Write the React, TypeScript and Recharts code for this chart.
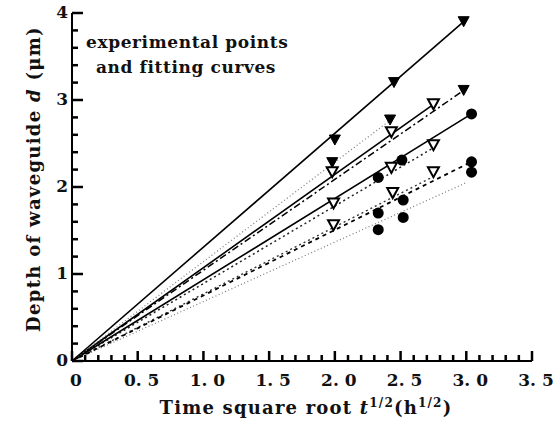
import React from "react";
import { ComposedChart, Line, Scatter, XAxis, YAxis } from "recharts";

// experimental points (x = t^1/2, y = depth)
const PTS_A = [ { x: 2.0, y: 2.54 }, { x: 2.45, y: 3.2 }, { x: 2.98, y: 3.9 } ];
const PTS_B = [ { x: 1.98, y: 2.28 }, { x: 2.42, y: 2.77 }, { x: 2.98, y: 3.11 } ];
const PTS_C = [ { x: 1.98, y: 2.17 }, { x: 2.43, y: 2.63 }, { x: 2.75, y: 2.95 } ];
const PTS_D = [ { x: 2.33, y: 2.11 }, { x: 2.51, y: 2.31 }, { x: 3.04, y: 2.84 } ];
const PTS_E = [ { x: 1.99, y: 1.81 }, { x: 2.43, y: 2.22 }, { x: 2.75, y: 2.48 } ];
const PTS_F = [ { x: 2.33, y: 1.7 }, { x: 2.52, y: 1.85 }, { x: 3.04, y: 2.29 } ];
const PTS_G = [ { x: 1.99, y: 1.56 }, { x: 2.44, y: 1.93 }, { x: 2.75, y: 2.17 } ];
const PTS_H = [ { x: 2.33, y: 1.51 }, { x: 2.52, y: 1.65 }, { x: 3.04, y: 2.17 } ];

// fitting lines (start, end)
const FIT_A = [ { x: 0, y: 0 }, { x: 2.98, y: 3.9 } ];
const FIT_B = [ { x: 0, y: 0 }, { x: 2.45, y: 2.8 } ];
const FIT_B2 = [ { x: 0, y: 0 }, { x: 2.98, y: 3.11 } ];
const FIT_C = [ { x: 0, y: 0 }, { x: 2.75, y: 2.95 } ];
const FIT_D = [ { x: 0, y: 0 }, { x: 3.04, y: 2.84 } ];
const FIT_E = [ { x: 0, y: 0 }, { x: 2.75, y: 2.45 } ];
const FIT_F = [ { x: 0, y: 0 }, { x: 3.04, y: 2.29 } ];
const FIT_G = [ { x: 0, y: 0 }, { x: 2.75, y: 2.12 } ];
const FIT_H = [ { x: 0, y: 0 }, { x: 3.0, y: 2.05 } ];

// ticks: labelled (major) and unlabelled (minor)
const X_MAJOR = [0, 0.5, 1, 1.5, 2, 2.5, 3, 3.5];
const X_MINOR = [
  0.1, 0.2, 0.3, 0.4, 0.6, 0.7, 0.8, 0.9, 1.1, 1.2, 1.3, 1.4, 1.6, 1.7, 1.8,
  1.9, 2.1, 2.2, 2.3, 2.4, 2.6, 2.7, 2.8, 2.9, 3.1, 3.2, 3.3, 3.4,
];
const Y_MAJOR = [0, 1, 2, 3, 4];
const Y_MINOR = [
  0.2, 0.4, 0.6, 0.8, 1.2, 1.4, 1.6, 1.8, 2.2, 2.4, 2.6, 2.8, 3.2, 3.4, 3.6, 3.8,
];

const X_MAJOR_MARKS = X_MAJOR.map((v) => ({ x: v, y: 0 }));
const X_MINOR_MARKS = X_MINOR.map((v) => ({ x: v, y: 0 }));
const Y_MAJOR_MARKS = Y_MAJOR.map((v) => ({ x: 0, y: v }));
const Y_MINOR_MARKS = Y_MINOR.map((v) => ({ x: 0, y: v }));

const FONT = "'DejaVu Serif', 'Liberation Serif', serif";
const TICK_MARGIN = 10;

function XTick(props: any) {
  const { x, y, payload } = props;
  const v = payload.value;
  const label = v === 0 ? "0" : v.toFixed(1).replace(".", ". ");
  return (
    <text x={x + 4} y={y + 15} textAnchor="middle" fontFamily={FONT} fontWeight="bold" fontSize={17} fill="#111">
      {label}
    </text>
  );
}

function YTick(props: any) {
  const { x, y, payload } = props;
  return (
    <text x={x + TICK_MARGIN - 4} y={y + 5} textAnchor="end" fontFamily={FONT} fontWeight="bold" fontSize={17} fill="#111">
      {payload.value}
    </text>
  );
}

function XTitle(props: any) {
  const { viewBox } = props;
  const cx = viewBox.x + viewBox.width / 2 + 4;
  return (
    <text x={cx} y={viewBox.y + 53} textAnchor="middle" fontFamily={FONT} fontWeight="bold" fontSize={18} letterSpacing={1.2} fill="#111">
      Time square root <tspan fontStyle="italic">t</tspan>
      <tspan dy={-7} fontSize={12}>1/2</tspan>
      <tspan dy={7}>(h</tspan>
      <tspan dy={-7} fontSize={12}>1/2</tspan>
      <tspan dy={7}>)</tspan>
    </text>
  );
}

function YTitle(props: any) {
  const { viewBox } = props;
  const cx = 33;
  const cy = viewBox.y + viewBox.height / 2 - 8;
  return (
    <text x={cx} y={cy} transform={`rotate(-90 ${cx} ${cy})`} textAnchor="middle" dominantBaseline="central" fontFamily={FONT} fontWeight="bold" fontSize={18} letterSpacing={1.3} fill="#111">
      Depth of waveguide <tspan fontStyle="italic">d</tspan> (μm)
    </text>
  );
}

// tick mark shapes, pointing into the plot
const xTick = (len: number) => (p: any) => (
  <path d={`M${p.cx},${p.cy} L${p.cx},${p.cy - len}`} stroke="#000" strokeWidth={2.5} fill="none" />
);
const yTick = (len: number) => (p: any) => (
  <path d={`M${p.cx},${p.cy} L${p.cx + len},${p.cy}`} stroke="#000" strokeWidth={2.5} fill="none" />
);

const downTri = (filled: boolean) => (p: any) => {
  const { cx, cy } = p;
  return (
    <path
      d={`M${cx - 5.5},${cy - 5} L${cx + 5.5},${cy - 5} L${cx},${cy + 5} Z`}
      fill={filled ? "#000" : "#fff"}
      stroke="#000"
      strokeWidth={filled ? 1 : 2}
    />
  );
};

const dot = (p: any) => <circle cx={p.cx} cy={p.cy} r={5.5} fill="#000" />;

const fit = (data: any[], dash?: string, color = "#000", width = 1.6) => (
  <Line
    data={data}
    dataKey="y"
    stroke={color}
    strokeWidth={width}
    strokeDasharray={dash}
    dot={false}
    activeDot={false}
    isAnimationActive={false}
  />
);

export default function App() {
  return (
    <div style={{ position: "absolute", left: 0, top: 0, background: "#fff" }}>
      <ComposedChart width={559} height={421} margin={{ top: 13, right: 27, bottom: 0, left: 0 }}>
        <XAxis
          type="number"
          dataKey="x"
          domain={[0, 3.5]}
          ticks={X_MAJOR}
          interval={0}
          tickSize={0}
          tickMargin={TICK_MARGIN}
          tickLine={false}
          tick={<XTick />}
          height={60}
          axisLine={{ stroke: "#000", strokeWidth: 2 }}
          label={<XTitle />}
        />
        <XAxis
          xAxisId="top"
          orientation="top"
          type="number"
          domain={[0, 3.5]}
          tick={false}
          tickLine={false}
          height={0}
          axisLine={{ stroke: "#000", strokeWidth: 1.8 }}
        />
        <YAxis
          type="number"
          dataKey="y"
          domain={[0, 4]}
          ticks={Y_MAJOR}
          interval={0}
          tickSize={0}
          tickMargin={TICK_MARGIN}
          tickLine={false}
          tick={<YTick />}
          width={72}
          axisLine={{ stroke: "#000", strokeWidth: 2 }}
          label={<YTitle />}
        />
        <YAxis
          yAxisId="right"
          orientation="right"
          type="number"
          domain={[0, 4]}
          tick={false}
          tickLine={false}
          width={0}
          axisLine={{ stroke: "#000", strokeWidth: 1.8 }}
        />

        <Scatter data={X_MAJOR_MARKS} dataKey="y" shape={xTick(10)} isAnimationActive={false} />
        <Scatter data={X_MINOR_MARKS} dataKey="y" shape={xTick(6)} isAnimationActive={false} />
        <Scatter data={Y_MAJOR_MARKS} dataKey="y" shape={yTick(11)} isAnimationActive={false} />
        <Scatter data={Y_MINOR_MARKS} dataKey="y" shape={yTick(6)} isAnimationActive={false} />

        {fit(FIT_H, "1 2.5", "#777", 1.2)}
        {fit(FIT_G, "2 3", "#333", 1.4)}
        {fit(FIT_F, "4 4", "#000", 1.8)}
        {fit(FIT_E, "2 3", "#222", 1.5)}
        {fit(FIT_D)}
        {fit(FIT_C)}
        {fit(FIT_B2, "7 3 2 3", "#000", 1.5)}
        {fit(FIT_B, "1 2.5", "#777", 1.2)}
        {fit(FIT_A)}

        <Scatter data={PTS_A} dataKey="y" shape={downTri(true)} isAnimationActive={false} />
        <Scatter data={PTS_B} dataKey="y" shape={downTri(true)} isAnimationActive={false} />
        <Scatter data={PTS_C} dataKey="y" shape={downTri(false)} isAnimationActive={false} />
        <Scatter data={PTS_D} dataKey="y" shape={dot} isAnimationActive={false} />
        <Scatter data={PTS_E} dataKey="y" shape={downTri(false)} isAnimationActive={false} />
        <Scatter data={PTS_F} dataKey="y" shape={dot} isAnimationActive={false} />
        <Scatter data={PTS_G} dataKey="y" shape={downTri(false)} isAnimationActive={false} />
        <Scatter data={PTS_H} dataKey="y" shape={dot} isAnimationActive={false} />
      </ComposedChart>
      <div
        style={{
          position: "absolute",
          left: 86,
          top: 30,
          fontFamily: FONT,
          fontWeight: "bold",
          fontSize: 17,
          letterSpacing: 0.6,
          lineHeight: "25px",
          color: "#111",
          whiteSpace: "nowrap",
        }}
      >
        experimental points
        <br />
        <span style={{ marginLeft: 10 }}>and fitting curves</span>
      </div>
    </div>
  );
}
